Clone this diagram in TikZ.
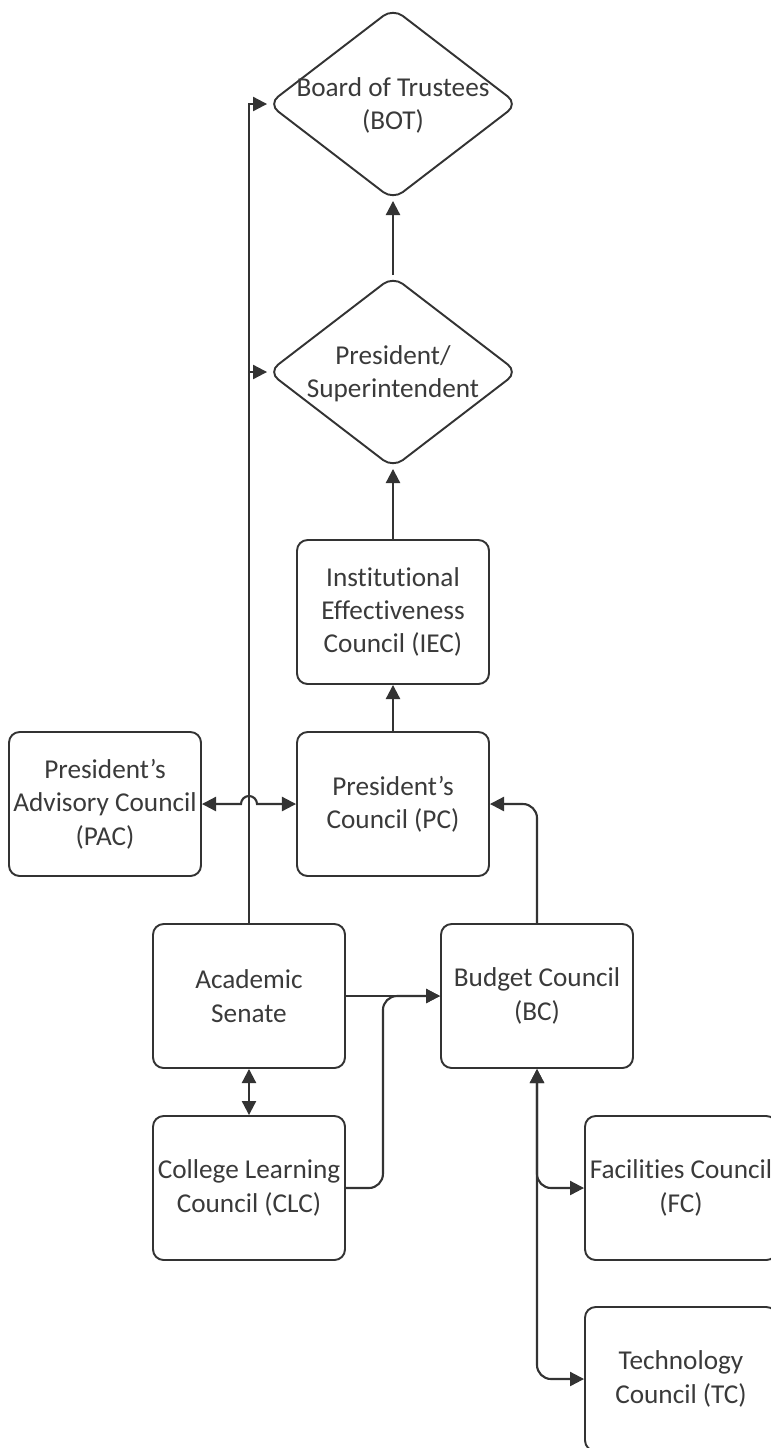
\documentclass[tikz,border=0pt]{standalone}
\usepackage{fontspec}
\setmainfont[Ligatures=NoCommon]{Carlito}
\usepackage{tikz}
\usetikzlibrary{shapes.geometric,arrows.meta,calc}

\definecolor{lineclr}{HTML}{333333}
\definecolor{textclr}{HTML}{3A3A3A}

% text inside a diamond, kept out of the diamond's size
\newcommand{\dlabel}[1]{\smash{\makebox[0pt]{\raisebox{-5pt}{\begin{tabular}{@{}c@{}}#1\end{tabular}}}}}

\begin{document}
\begin{tikzpicture}[x=0.02cm, y=-0.02cm,
        >={Triangle[length=8pt,width=8pt]},
        council/.style={rectangle, draw=lineclr, line width=1.1pt, rounded corners=6pt, inner sep=1pt, minimum width=3.84cm, minimum height=2.88cm, text=textclr, align=center, font=\fontsize{15.5}{19}\selectfont},
        board/.style={diamond, draw=lineclr, line width=1.1pt, rounded corners=7pt, minimum width=5cm, minimum height=3.84cm, inner sep=0pt, text=textclr, font=\fontsize{15.5}{19}\selectfont},
        link/.style={draw=lineclr, line width=1.2pt}]

        \useasboundingbox (0,0) rectangle (771,1448);

        % Top of the chain
        \node[board] (bot) at (393,104) {\dlabel{Board of Trustees\\(BOT)}};
        \node[board] (pres) at (393,372) {\dlabel{President/\\Superintendent}};

        % Councils
        \node[council] (iec) at (393,612) {Institutional\\Effectiveness\\Council (IEC)};
        \node[council] (pc) at (393,804) {President’s\\Council (PC)};
        \node[council] (pac) at (105,804) {President’s\\Advisory Council\\(PAC)};
        \node[council] (as) at (249,996) {Academic\\Senate};
        \node[council] (bc) at (537,996) {Budget Council\\(BC)};
        \node[council] (clc) at (249,1188) {College Learning\\Council (CLC)};
        \node[council] (fc) at (681,1188) {Facilities Council\\(FC)};
        \node[council] (tc) at (681,1379) {Technology\\Council (TC)};

        \coordinate (hop) at (as.north |- pc.west);

        % Reporting lines
        \draw[link, ->] (pres) -- (bot);
        \draw[link, ->] (iec) -- (pres);
        \draw[link, ->] (pc) -- (iec);
        \draw[link, ->] (as.north) |- (bot.west);
        \draw[link, ->] (as.north) |- (pres.west);
        \draw[link, <->] (pac.east) -- ($(hop)+(-8,0)$) arc[start angle=180, end angle=0, radius=0.16cm] -- (pc.west);
        \draw[link, ->, rounded corners=8pt] (bc.north) |- (pc.east);
        \draw[link, ->] (as.east) -- (bc.west);
        \draw[link, ->, rounded corners=8pt] (clc.east) -- ++(37,0) |- (bc.west);
        \draw[link, <->] (as.south) -- (clc.north);
        \draw[link, <->, rounded corners=8pt] (bc.south) |- (fc.west);
        \draw[link, <->, rounded corners=8pt] (bc.south) |- (tc.west);

    \end{tikzpicture}
\end{document}
